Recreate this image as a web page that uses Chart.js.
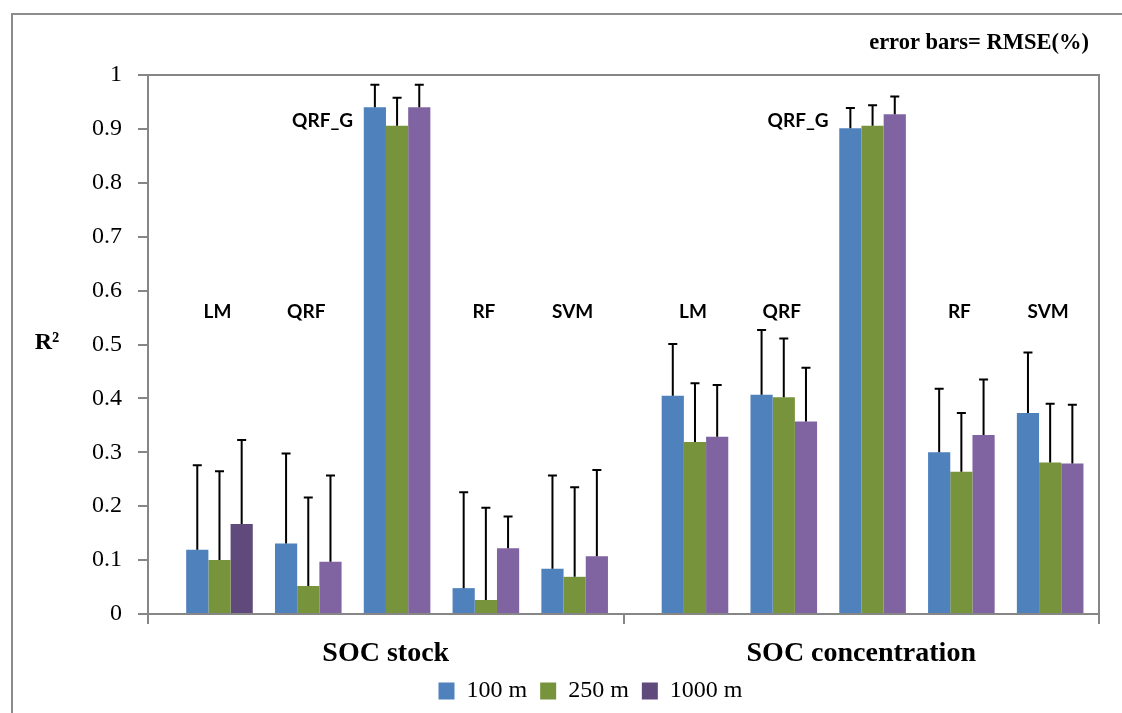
<!DOCTYPE html>
<html>
<head>
<meta charset="utf-8">
<script src="https://cdn.jsdelivr.net/npm/chart.js@4/dist/chart.umd.min.js"></script>
<style>
  html, body { margin: 0; padding: 0; background: #fff; }
  #wrap { width: 1122px; height: 713px; }
</style>
</head>
<body>
<div id="wrap"><canvas id="chart"></canvas></div>
<script>
// data
var groups = ["SOC stock", "SOC concentration"];
var methods = ["LM", "QRF", "QRF_G", "RF", "SVM"];
var seriesNames = ["100 m", "250 m", "1000 m"];

var r2_100 = [0.119, 0.131, 0.940, 0.048, 0.084, 0.405, 0.407, 0.901, 0.300, 0.373];
var r2_250 = [0.100, 0.052, 0.906, 0.026, 0.069, 0.319, 0.402, 0.906, 0.264, 0.281];
var r2_1000 = [0.167, 0.097, 0.940, 0.122, 0.107, 0.329, 0.357, 0.927, 0.332, 0.279];

// RMSE error bars (upper only)
var err_100 = [0.157, 0.167, 0.042, 0.178, 0.173, 0.096, 0.120, 0.038, 0.118, 0.112];
var err_250 = [0.165, 0.164, 0.052, 0.171, 0.166, 0.109, 0.109, 0.038, 0.109, 0.109];
var err_1000 = [0.156, 0.160, 0.042, 0.059, 0.160, 0.096, 0.100, 0.033, 0.103, 0.109];

// x layout of the slots: each group spans groupSpan units, methods 1 unit apart
var groupSpan = 5.355;
var firstSlot = 0.805;
var xs = [];
groups.forEach(function (g, gi) {
  methods.forEach(function (m, mi) {
    xs.push(gi * groupSpan + firstSlot + mi);
  });
});

function pts(vals) {
  return vals.map(function (v, i) { return { x: xs[i], y: v }; });
}

var purple = "#8064A2";
var darkPurple = "#604A7B";
var axisGray = "#868686";

var errorBars = {
  id: "errorBars",
  afterDatasetsDraw: function (chart) {
    var ctx = chart.ctx;
    var y = chart.scales.y;
    var errs = [err_100, err_250, err_1000];
    ctx.save();
    ctx.strokeStyle = "#000";
    ctx.lineWidth = 2;
    chart.data.datasets.forEach(function (ds, di) {
      var meta = chart.getDatasetMeta(di);
      meta.data.forEach(function (bar, i) {
        var v = ds.data[i].y;
        var top = y.getPixelForValue(v + errs[di][i]);
        ctx.beginPath();
        ctx.moveTo(bar.x, bar.y);
        ctx.lineTo(bar.x, top);
        ctx.moveTo(bar.x - 4.5, top);
        ctx.lineTo(bar.x + 4.5, top);
        ctx.stroke();
      });
    });
    ctx.restore();
  }
};

var decorations = {
  id: "decorations",
  afterDraw: function (chart) {
    var ctx = chart.ctx;
    var a = chart.chartArea;
    var x = chart.scales.x;
    var y = chart.scales.y;
    ctx.save();

    // outer frame
    ctx.strokeStyle = "#8c8c8c";
    ctx.lineWidth = 2;
    ctx.beginPath();
    ctx.moveTo(12, 713);
    ctx.lineTo(12, 14);
    ctx.lineTo(1122, 14);
    ctx.stroke();

    // plot box top and right
    ctx.strokeStyle = axisGray;
    ctx.beginPath();
    ctx.moveTo(a.left, a.top);
    ctx.lineTo(a.right, a.top);
    ctx.lineTo(a.right, a.bottom + 10);
    ctx.stroke();

    // method labels
    ctx.fillStyle = "#000";
    ctx.font = "bold 19px Lato";
    ctx.textBaseline = "middle";
    methods.forEach(function (m, mi) {
      groups.forEach(function (g, gi) {
        var cx = x.getPixelForValue(gi * groupSpan + firstSlot + mi);
        if (m === "QRF_G") {
          ctx.textAlign = "right";
          ctx.fillText(m, cx - 44, y.getPixelForValue(0.914));
        } else {
          ctx.textAlign = "center";
          ctx.fillText(m, cx - 2, y.getPixelForValue(0.561));
        }
      });
    });

    // group labels
    ctx.font = "bold 28px 'Liberation Serif'";
    ctx.textAlign = "center";
    groups.forEach(function (g, gi) {
      ctx.fillText(g, x.getPixelForValue(gi * groupSpan + groupSpan / 2), 654);
    });

    // y title
    ctx.font = "bold 24px 'Liberation Serif'";
    ctx.fillText("R²", 47, 343);

    // note
    ctx.font = "bold 22.5px 'Liberation Serif'";
    ctx.textAlign = "right";
    ctx.fillText("error bars= RMSE(%)", 1089, 43);
    ctx.restore();
  }
};

new Chart(document.getElementById("chart"), {
  type: "bar",
  data: {
    datasets: [
      { label: seriesNames[0], data: pts(r2_100), backgroundColor: "#4F81BD" },
      { label: seriesNames[1], data: pts(r2_250), backgroundColor: "#77933C" },
      {
        label: seriesNames[2],
        data: pts(r2_1000),
        backgroundColor: r2_1000.map(function (v, i) { return i === 0 ? darkPurple : purple; })
      }
    ]
  },
  options: {
    responsive: true,
    maintainAspectRatio: false,
    animation: false,
    barPercentage: 1,
    categoryPercentage: 0.75,
    layout: { padding: { left: 82, right: 23, top: 75, bottom: 0 } },
    plugins: {
      legend: {
        position: "bottom",
        labels: {
          boxWidth: 16,
          boxHeight: 17,
          padding: 13,
          color: "#000",
          font: { family: "'Liberation Serif'", size: 24 }
        }
      },
      tooltip: { enabled: false }
    },
    scales: {
      x: {
        type: "linear",
        offset: false,
        min: 0,
        max: groupSpan * 2,
        afterBuildTicks: function (s) {
          s.ticks = [{ value: 0 }, { value: groupSpan }, { value: groupSpan * 2 }];
        },
        afterFit: function (s) { s.height = 52; },
        ticks: { display: false },
        grid: { offset: false, drawOnChartArea: false, tickLength: 10, color: axisGray, lineWidth: 2 },
        border: { color: axisGray, width: 2 }
      },
      y: {
        min: 0,
        max: 1,
        afterFit: function (s) { s.width = 66; },
        ticks: {
          stepSize: 0.1,
          padding: 16,
          color: "#000",
          font: { family: "'Liberation Serif'", size: 24 },
          callback: function (v) { return String(Number(v.toFixed(1))); }
        },
        grid: { drawOnChartArea: false, tickLength: 10, color: axisGray, lineWidth: 2 },
        border: { color: axisGray, width: 2 }
      }
    }
  },
  plugins: [errorBars, decorations]
});
</script>
</body>
</html>
